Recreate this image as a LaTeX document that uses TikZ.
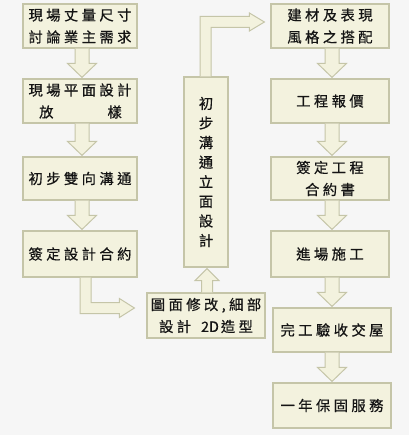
\documentclass[tikz,border=0pt]{standalone}
\usepackage{fontspec}
\setmainfont{Noto Sans CJK TC}[LetterSpace=24,FakeBold=0.6]
\newfontfamily\tightfont{Noto Sans CJK TC}[FakeBold=0.6]
\usetikzlibrary{calc}
\definecolor{bgc}{HTML}{F6F6F6}
\definecolor{boxc}{HTML}{F3F2DE}
\definecolor{bordc}{HTML}{C5C5A8}
\definecolor{txtc}{HTML}{141414}
% down block arrow: from node #1 to node #2 at x = #3 (pt)
\newcommand\dnarrow[3]{%
  \path[blk] let \p1=(#1.south), \p2=(#2.north) in
    ({#3pt-7pt},{\y1}) -- ({#3pt-7pt},{\y2+15pt}) -- ({#3pt-14.5pt},{\y2+15pt})
    -- ({#3pt},{\y2+1pt}) -- ({#3pt+14.5pt},{\y2+15pt}) -- ({#3pt+7pt},{\y2+15pt})
    -- ({#3pt+7pt},{\y1});}
\begin{document}
\begin{tikzpicture}[x=1pt,y=-1pt,
  box/.style={draw=bordc, fill=boxc, line width=1.2pt, inner sep=0pt, text=txtc,
    align=center, font=\fontsize{14.3}{22}\selectfont},
  lbox/.style={box, minimum width=114pt},
  rbox/.style={box, minimum width=118pt},
  blk/.style={draw=bordc, fill=boxc, line width=1pt, line join=miter}]
\fill[bgc] (0,0) rectangle (409,435);
\useasboundingbox (0,0) rectangle (409,435);
% left column
\node[lbox, minimum height=44pt] (L1) at (80,26) {現場丈量尺寸\\討論業主需求};
\node[lbox, minimum height=44pt] (L2) at (80,101) {現場平面設計\\\hspace{1pt}放\hspace{54pt}樣};
\node[lbox, minimum height=43pt] (L3) at (80,178.5) {初步雙向溝通};
\node[lbox, minimum height=46pt] (L4) at (80,254) {簽定設計合約};
% middle
\node[box, minimum width=44pt, minimum height=190pt, font=\fontsize{14.3}{19.6}\selectfont] (V) at (206,172)
  {初\\步\\溝\\通\\立\\面\\設\\計};
\node[box, minimum width=118pt, minimum height=45pt] (M) at (206,315.5)
  {圖面修改,細部\\設計\hspace{10pt}{\tightfont 2D}\hspace{2pt}造型};
% right column
\node[rbox, minimum height=44pt] (R1) at (330,26) {建材及表現\\風格之搭配};
\node[rbox, minimum height=44pt] (R2) at (330,101) {工程報價};
\node[rbox, minimum height=43pt] (R3) at (330,178.5) {簽定工程\\合約書};
\node[rbox, minimum height=46pt] (R4) at (330,254) {進場施工};
\node[rbox, minimum height=44pt] (R5) at (332,330) {完工驗收交屋};
\node[rbox, minimum height=45pt] (R6) at (332,405.5) {一年保固服務};
% arrows left column
\dnarrow{L1}{L2}{82}
\dnarrow{L2}{L3}{82}
\dnarrow{L3}{L4}{82}
% arrows right column
\dnarrow{R1}{R2}{332}
\dnarrow{R2}{R3}{332}
\dnarrow{R3}{R4}{332}
\dnarrow{R4}{R5}{332}
\dnarrow{R5}{R6}{332}
% elbow L4 -> M
\path[blk] let \p1=(L4.south), \p2=(M.west) in
  ({\x1},{\y1}) -- ({\x1},{\y2+2pt}) -- ({\x2-27pt},{\y2+2pt}) -- ({\x2-27pt},{\y2-2pt})
  -- ({\x2-12pt},{\y2+7.5pt}) -- ({\x2-27pt},{\y2+17pt}) -- ({\x2-27pt},{\y2+13pt})
  -- ({\x1+11pt},{\y2+13pt}) -- ({\x1+11pt},{\y1});
% up arrow M -> V
\path[blk] let \p1=(M.north), \p2=(V.south) in
  ({\x1-4.5pt},{\y1}) -- ({\x1-4.5pt},{\y2-13pt}) -- ({\x1-11pt},{\y2-13pt})
  -- ({\x1+1pt},{\y2-1pt}) -- ({\x1+13pt},{\y2-13pt}) -- ({\x1+6.5pt},{\y2-13pt})
  -- ({\x1+6.5pt},{\y1});
% elbow V -> R1
\path[blk] let \p1=(V.north), \p2=(R1.west) in
  ({\x1-6pt},{\y1}) -- ({\x1-6pt},{\y2+9.5pt}) -- ({\x2-21pt},{\y2+9.5pt})
  -- ({\x2-21pt},{\y2+13pt}) -- ({\x2-6pt},{\y2+4pt}) -- ({\x2-21pt},{\y2-5pt})
  -- ({\x2-21pt},{\y2-1.5pt}) -- ({\x1+5pt},{\y2-1.5pt}) -- ({\x1+5pt},{\y1});
\end{tikzpicture}
\end{document}
